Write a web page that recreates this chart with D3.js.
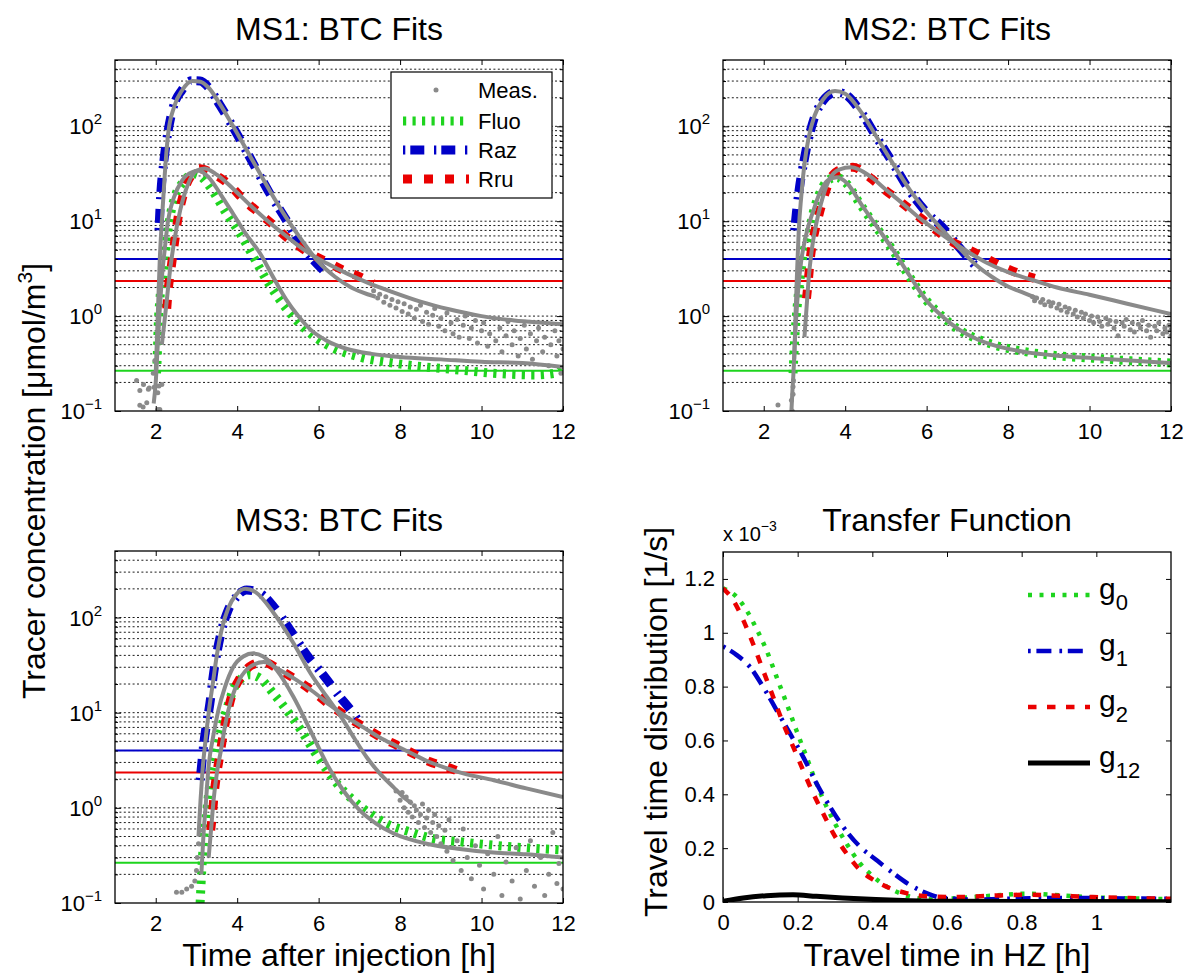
<!DOCTYPE html>
<html>
<head>
<meta charset="utf-8">
<script src="https://cdn.jsdelivr.net/npm/d3@7"></script>
<style>
  body { margin: 0; background: #fff; }
  text { font-family: "Liberation Sans", Arial, Helvetica, sans-serif; fill: #000; }
</style>
</head>
<body>
<svg id="fig" width="1202" height="974"></svg>
<script>
// ---------- data (time [h], concentration [umol/m3]) ----------
const tracers = ["Fluo", "Raz", "Rru"];
const limitValues = [0.265, 4.0, 2.35];        // detection limits, same order as tracers
const xTicksBTC = [2, 4, 6, 8, 10, 12];
const logDecades = [0.1, 1, 10, 100];

// MS1
const ms1FluoFit = [[2.02,0.25],[2.04,0.4],[2.06,0.77],[2.1,1.47],[2.19,2.8],[2.27,6.3],[2.35,11],[2.47,18],[2.68,26],[2.92,31.6],[3.09,30],[3.33,23],[3.74,12],[4.07,7.4],[4.4,4.2],[4.72,2.4],[5.05,1.47],[5.38,0.98],[5.79,0.66],[6.2,0.5],[7.01,0.37],[7.83,0.32],[8.65,0.29],[9.47,0.27],[10.29,0.25],[11.3,0.24],[11.8,0.25],[12,0.29]];
const ms1RazFit = [[2.08,8],[2.12,18],[2.2,43],[2.3,87],[2.43,159],[2.64,240],[2.88,302],[3.09,300],[3.29,259],[3.58,166],[3.9,98],[4.4,40],[4.8,19.6],[5.21,10.2],[5.54,5.8],[5.87,3.9],[6.11,3.05]];
const ms1RruFit = [[2.27,1.2],[2.31,1.95],[2.37,3.05],[2.43,4.75],[2.48,6.8],[2.55,11],[2.64,16.6],[2.8,27],[3.09,35.8],[3.41,31.6],[3.82,24],[4.15,17],[4.56,12],[4.89,9.1],[5.21,6.8],[5.54,5.37],[5.87,4.38],[6.2,3.73],[6.6,3.05],[7.01,2.6],[7.34,2.2]];
const ms1FluoMeas = [[1.95,0.12],[2.0,0.2],[2.05,0.5],[2.1,1.2],[2.15,2.5],[2.22,5],[2.3,10],[2.45,18],[2.65,27],[2.9,33],[3.05,34],[3.3,29],[3.6,19],[3.9,12],[4.2,7.5],[4.56,4.6],[4.9,2.5],[5.2,1.5],[5.5,1.0],[5.8,0.72],[6.2,0.55],[6.7,0.45],[7.3,0.4],[8.0,0.37],[9.0,0.35],[10.0,0.33],[11.0,0.32],[12.0,0.29]];
const ms1RazMeas = [[2.0,0.25],[2.05,1.0],[2.1,4],[2.15,10],[2.22,30],[2.3,80],[2.45,160],[2.65,240],[2.9,300],[3.1,295],[3.3,255],[3.6,165],[3.9,100],[4.4,42],[4.8,21],[5.2,11],[5.6,6.2],[6.0,3.7],[6.4,2.6],[6.8,2.0],[7.2,1.7],[7.4,1.6]];
const ms1RruMeas = [[2.15,0.5],[2.25,1.2],[2.35,3],[2.45,6],[2.6,13],[2.8,25],[3.0,34],[3.2,36],[3.5,31],[3.9,22],[4.3,15],[4.7,10.5],[5.2,7],[5.7,4.8],[6.2,3.6],[6.7,2.8],[7.2,2.25],[7.8,1.8],[8.5,1.42],[9.2,1.18],[10.0,1.0],[10.8,0.9],[11.5,0.85],[12.0,0.82]];
const ms1Scatter = [[1.53,0.21],[1.61,0.164],[1.61,0.115],[1.69,0.11],[1.7,0.19],[1.78,0.122],[1.82,0.17],[1.84,0.175],[1.94,0.25],[1.96,0.178],[1.98,0.34],[2.05,0.156],[2.05,0.104],[2.08,0.183],[2.1,0.104],[2.15,0.19],
  [7.35,1.85],[7.45,1.55],[7.5,1.7],[7.6,1.4],[7.65,1.6],[7.75,1.3],[7.8,1.5],[7.9,1.22],[7.95,1.42],[8.05,1.12],[8.1,1.35],[8.2,1.05],[8.25,1.25],[8.35,0.95],[8.4,1.18],[8.5,1.3],[8.55,0.88],[8.65,1.1],[8.7,0.82],[8.8,1.02],[8.85,1.2],[8.95,0.78],[9.0,0.95],[9.1,0.7],[9.15,1.08],[9.25,0.85],[9.3,0.65],[9.4,0.92],[9.45,0.6],[9.55,0.8],[9.6,1.0],[9.7,0.58],[9.75,0.75],[9.85,0.9],[9.9,0.52],[10.0,0.7],[10.05,0.85],[10.15,0.48],[10.2,0.65],[10.3,0.95],[10.35,0.55],[10.45,0.75],[10.5,0.42],[10.6,0.62],[10.65,0.88],[10.75,0.5],[10.8,0.7],[10.9,0.38],[10.95,0.58],[11.05,0.8],[11.1,0.45],[11.2,0.65],[11.25,0.35],[11.35,0.55],[11.4,0.75],[11.5,0.42],[11.55,0.6],[11.65,0.3],[11.7,0.5],[11.8,0.7],[11.85,0.38],[11.9,0.55],[11.95,0.25],[12.0,0.45],[12.0,0.1]];

// MS2
const ms2FluoFit = [[2.72,0.25],[2.76,0.56],[2.82,1.25],[2.88,2.2],[2.96,4.2],[3.09,6.8],[3.21,12],[3.37,19.5],[3.58,27],[3.78,29],[4.03,25],[4.36,15.3],[4.76,8.7],[5.17,4.95],[5.58,2.6],[5.99,1.47],[6.4,0.98],[6.81,0.71],[7.22,0.58],[7.63,0.5],[8.45,0.42],[9.27,0.38],[10.08,0.36],[10.9,0.34],[12,0.32]];
const ms2RazFit = [[2.76,8],[2.8,12],[2.88,23],[2.96,37],[3.09,71],[3.25,126],[3.46,187],[3.78,230],[4.03,213],[4.36,147],[4.76,78],[5.17,41],[5.58,21],[5.99,12.5],[6.4,8.5],[6.8,5.3],[7.25,3.2]];
const ms2RruFit = [[3.05,1.53],[3.1,2.5],[3.14,3.9],[3.21,6.3],[3.31,9.8],[3.43,15.3],[3.62,27],[3.82,34],[4.19,37],[4.6,29],[5.0,21],[5.42,15.3],[5.83,11],[6.24,8],[6.65,6.0],[7.06,4.95],[7.46,4.05],[7.87,3.3],[8.28,2.8],[8.65,2.5]];
const ms2FluoMeas = [[2.68,0.1],[2.7,0.15],[2.73,0.25],[2.76,0.5],[2.8,1.0],[2.85,2],[2.92,3.8],[3.0,6],[3.1,9],[3.22,13],[3.38,20],[3.58,27],[3.8,29],[4.05,25],[4.4,15],[4.8,8.5],[5.2,4.8],[5.6,2.6],[6.0,1.45],[6.4,0.98],[6.8,0.72],[7.2,0.58],[7.6,0.5],[8.4,0.42],[9.3,0.38],[10.1,0.36],[11.0,0.34],[12.0,0.32]];
const ms2RazMeas = [[2.75,0.35],[2.78,1],[2.82,3],[2.86,8],[2.92,18],[3.0,40],[3.1,75],[3.25,130],[3.45,190],[3.75,235],[4.0,220],[4.35,150],[4.75,80],[5.15,42],[5.6,21],[6.0,12.5],[6.4,8],[6.8,5.2],[7.2,3.5],[7.6,2.6],[8.0,2.05],[8.4,1.75],[8.7,1.55]];
const ms2RruMeas = [[3.0,0.6],[3.05,1.2],[3.1,2.4],[3.18,5],[3.28,9],[3.4,15],[3.6,27],[3.85,35],[4.15,37],[4.6,30],[5.0,21.5],[5.4,15.5],[5.8,11],[6.2,8.2],[6.6,6.2],[7.0,4.8],[7.5,3.6],[8.0,2.9],[8.6,2.4],[9.2,2.0],[10.0,1.68],[10.9,1.36],[12.0,1.05]];
const ms2Scatter = [[2.35,0.116],[2.68,0.13],[2.7,0.1],[2.72,0.15],[2.72,0.18],[2.73,0.21],
  [8.6,1.6],[8.65,1.45],[8.7,1.55],[8.8,1.4],[8.85,1.5],[8.9,1.32],[9.0,1.42],[9.05,1.28],[9.1,1.38],[9.2,1.22],[9.25,1.33],[9.3,1.15],[9.4,1.25],[9.45,1.1],[9.5,1.2],[9.6,1.05],[9.65,1.15],[9.7,0.98],[9.8,1.1],[9.85,0.95],[9.9,1.05],[10.0,0.9],[10.05,1.0],[10.1,0.85],[10.2,0.98],[10.25,0.88],[10.3,0.78],[10.4,0.95],[10.45,0.82],[10.5,0.9],[10.6,0.75],[10.65,0.88],[10.7,0.62],[10.8,0.85],[10.85,0.78],[10.9,0.92],[11.0,0.72],[11.05,0.85],[11.1,0.68],[11.2,0.82],[11.25,0.75],[11.3,0.9],[11.4,0.7],[11.45,0.8],[11.5,0.6],[11.6,0.78],[11.65,0.7],[11.7,0.85],[11.8,0.65],[11.85,0.75],[11.9,0.68],[11.95,0.8],[12.0,0.72],[12.0,0.62]];

// MS3
const ms3FluoFit = [[3.09,0.1],[3.13,0.22],[3.17,0.42],[3.23,0.74],[3.29,1.3],[3.37,2.3],[3.48,3.7],[3.6,6.6],[3.74,10.7],[3.9,17.3],[4.11,23],[4.31,25],[4.56,23],[4.89,15.9],[5.21,10.7],[5.54,6.8],[5.87,4.05],[6.2,2.5],[6.52,1.66],[6.85,1.2],[7.26,0.87],[7.67,0.68],[8.24,0.56],[8.81,0.475],[9.47,0.44],[10.29,0.405],[11.1,0.38],[12,0.36]];
const ms3RazFit = [[3.09,1.95],[3.13,2.9],[3.18,4.75],[3.25,7.7],[3.33,12.5],[3.41,24],[3.5,42],[3.62,74],[3.78,120],[3.99,166],[4.23,195],[4.56,180],[4.89,131],[5.3,74],[5.7,41],[6.11,25],[6.52,14.7],[6.85,9.8],[7.01,7.7]];
const ms3RruFit = [[3.35,0.58],[3.4,0.94],[3.44,1.47],[3.5,2.3],[3.58,3.7],[3.66,6],[3.74,9.1],[3.86,14.7],[4.07,23],[4.36,31.6],[4.64,34],[5.05,28],[5.46,22],[5.87,16.6],[6.28,12],[6.69,9.1],[7.1,7.1],[7.5,5.6],[7.91,4.57],[8.32,3.73],[8.73,3.05],[9.14,2.7],[9.55,2.3]];
const ms3FluoMeas = [[3.12,0.2],[3.17,0.5],[3.23,1.1],[3.29,2.5],[3.41,5.6],[3.54,10.7],[3.7,18.6],[3.9,30],[4.15,39],[4.4,42],[4.64,39],[4.97,28],[5.38,14.7],[5.79,6.6],[6.2,2.9],[6.6,1.53],[7.01,0.94],[7.42,0.68],[7.83,0.54],[8.65,0.42],[9.47,0.37],[10.29,0.34],[11.1,0.325],[12.0,0.3]];
const ms3RazMeas = [[3.05,0.5],[3.1,1.2],[3.15,2.5],[3.22,5],[3.3,10],[3.4,20],[3.5,40],[3.62,75],[3.78,125],[3.98,175],[4.2,200],[4.45,185],[4.9,111],[5.38,54],[5.8,26],[6.2,14.7],[6.6,8.4],[6.85,5.6],[7.18,3.4],[7.5,2.3],[7.83,1.66],[8.08,1.3],[8.3,1.1]];
const ms3RruMeas = [[3.3,0.3],[3.36,0.6],[3.42,1.2],[3.5,2.3],[3.6,4],[3.72,8],[3.86,14],[4.05,22],[4.35,31],[4.65,34],[5.05,28],[5.46,22],[5.87,16.6],[6.28,12],[6.69,9],[7.1,7],[7.5,5.5],[7.9,4.5],[8.3,3.7],[8.7,3.05],[9.1,2.65],[9.55,2.3],[10.3,1.95],[11.1,1.6],[12.0,1.3]];
const ms3Scatter = [[2.51,0.13],[2.64,0.13],[2.76,0.14],[2.88,0.15],[2.96,0.17],[3.0,0.22],[3.02,0.3],[3.05,0.42],[3.09,0.58],
  [7.9,1.5],[8.0,1.2],[8.05,1.45],[8.1,1.0],[8.15,1.3],[8.2,0.9],[8.25,1.15],[8.3,0.8],[8.35,1.05],[8.4,0.95],[8.45,0.7],[8.5,0.85],[8.55,1.1],[8.6,0.62],[8.65,0.78],[8.7,0.95],[8.75,0.55],[8.8,0.7],[8.85,0.85],[8.9,0.5],[8.95,0.65],[9.0,0.42],[9.1,0.58],[9.15,0.35],[9.2,0.75],[9.3,0.28],[9.4,0.45],[9.5,0.22],[9.55,0.6],[9.65,0.3],[9.75,0.18],[9.85,0.4],[9.95,0.25],[10.05,0.14],[10.15,0.33],[10.3,0.2],[10.4,0.5],[10.5,0.12],[10.6,0.27],[10.75,0.17],[10.85,0.38],[10.95,0.11],[11.1,0.22],[11.2,0.45],[11.3,0.15],[11.45,0.3],[11.55,0.12],[11.65,0.2],[11.75,0.55],[11.85,0.16],[11.9,0.26],[12.0,0.14],[12.0,0.35]];

// Transfer function (travel time [h], value in 1e-3 1/s)
const tfNames = ["0", "1", "2", "12"];
const g0 = [[0,1.165],[0.036,1.134],[0.0625,1.085],[0.089,1.017],[0.116,0.937],[0.143,0.838],[0.17,0.739],[0.196,0.64],[0.223,0.541],[0.25,0.442],[0.277,0.355],[0.304,0.281],[0.33,0.219],[0.366,0.145],[0.402,0.095],[0.4375,0.058],[0.473,0.033],[0.518,0.015],[0.571,0.009],[0.634,0.015],[0.723,0.0235],[0.8125,0.031],[0.9,0.025],[0.99,0.017],[1.08,0.0136],[1.2,0.011]];
const g1 = [[0,0.949],[0.036,0.918],[0.071,0.875],[0.107,0.8],[0.143,0.714],[0.179,0.627],[0.214,0.541],[0.25,0.442],[0.286,0.355],[0.321,0.281],[0.366,0.207],[0.41,0.157],[0.455,0.108],[0.5,0.064],[0.545,0.033],[0.589,0.015],[0.679,0.009],[0.768,0.012],[0.857,0.015],[0.946,0.015],[1.036,0.0136],[1.2,0.012]];
const g2 = [[0,1.165],[0.027,1.122],[0.054,1.048],[0.08,0.961],[0.107,0.862],[0.134,0.763],[0.161,0.664],[0.1875,0.578],[0.214,0.491],[0.241,0.405],[0.268,0.33],[0.295,0.256],[0.33,0.182],[0.366,0.12],[0.402,0.083],[0.446,0.052],[0.491,0.033],[0.545,0.021],[0.634,0.0186],[0.723,0.0235],[0.8125,0.027],[0.9,0.0235],[0.99,0.0186],[1.08,0.015],[1.2,0.012]];
const g12 = [[0,0.0025],[0.054,0.015],[0.116,0.0235],[0.1875,0.027],[0.25,0.021],[0.321,0.015],[0.41,0.009],[0.5,0.005],[0.634,0.0025],[1.2,0.001]];
const tfXTicks = [0, 0.2, 0.4, 0.6, 0.8, 1];
const tfYTicks = [0, 0.2, 0.4, 0.6, 0.8, 1, 1.2];

// ---------- styles ----------
const colors = { Fluo: "#1ed41e", Raz: "#0000c8", Rru: "#ea0000", meas: "#8a8a8a", g12: "#000" };
const thickDash = { Fluo: "3.2,6.3", Raz: "2.3,5,14,9.7", Rru: "9,12" };
const FONT = '"Liberation Sans", Arial, Helvetica, sans-serif';
const TICK_FS = 22;

const svg = d3.select("#fig");
svg.append("rect").attr("width", 1202).attr("height", 974).attr("fill", "#fff");

function styleAxis(a) {
  a.attr("font-family", FONT).attr("font-size", TICK_FS);
  a.select(".domain").remove();
  a.selectAll(".tick line").attr("stroke", "#000");
}

function btcPanel(id, box, title, fits, meas, scatter, legend) {
  const x = d3.scaleLinear([1, 12], [box.x0, box.x1]);
  const y = d3.scaleLog([0.1, 500], [box.y1, box.y0]);
  const g = svg.append("g");

  g.append("clipPath").attr("id", "clip" + id)
    .append("rect").attr("x", box.x0).attr("y", box.y0)
    .attr("width", box.x1 - box.x0).attr("height", box.y1 - box.y0);

  // dotted minor grid
  g.append("g").selectAll("line")
    .data(y.ticks().filter(v => v > 0.1 && v < 500))
    .join("line")
    .attr("x1", box.x0).attr("x2", box.x1)
    .attr("y1", d => y(d)).attr("y2", d => y(d))
    .attr("stroke", "#000").attr("stroke-width", 0.9)
    .attr("stroke-dasharray", "2,2.4");

  const plot = g.append("g").attr("clip-path", `url(#clip${id})`);

  // detection limits
  plot.selectAll(".lim").data(tracers).join("line")
    .attr("x1", box.x0).attr("x2", box.x1)
    .attr("y1", (d, i) => y(limitValues[i])).attr("y2", (d, i) => y(limitValues[i]))
    .attr("stroke", d => colors[d]).attr("stroke-width", 2);

  const line = d3.line().x(d => x(d[0])).y(d => y(d[1])).curve(d3.curveMonotoneX);

  // fits
  tracers.forEach((t, i) => {
    plot.append("path").attr("d", line(fits[i]))
      .attr("fill", "none").attr("stroke", colors[t]).attr("stroke-width", 9)
      .attr("stroke-dasharray", thickDash[t]);
  });

  // measurements
  meas.forEach(m => {
    plot.append("path").attr("d", line(m))
      .attr("fill", "none").attr("stroke", colors.meas).attr("stroke-width", 4);
  });
  plot.append("g").selectAll("circle").data(scatter).join("circle")
    .attr("cx", d => x(d[0])).attr("cy", d => y(d[1])).attr("r", 2.5)
    .attr("fill", colors.meas);

  // box + ticks
  g.append("rect").attr("x", box.x0).attr("y", box.y0)
    .attr("width", box.x1 - box.x0).attr("height", box.y1 - box.y0)
    .attr("fill", "none").attr("stroke", "#000").attr("stroke-width", 1.3);

  g.append("g").attr("transform", `translate(0,${box.y1})`)
    .call(d3.axisBottom(x).tickValues(xTicksBTC).tickSizeInner(-5).tickSizeOuter(0).tickPadding(12))
    .call(styleAxis);
  g.append("g").attr("transform", `translate(0,${box.y0})`)
    .call(d3.axisTop(x).tickValues(xTicksBTC).tickSizeInner(-5).tickSizeOuter(0).tickFormat(""))
    .call(styleAxis);
  const minor = y.ticks().filter(v => !logDecades.includes(v));
  [[d3.axisLeft, box.x0], [d3.axisRight, box.x1]].forEach(([axis, px]) => {
    g.append("g").attr("transform", `translate(${px},0)`)
      .call(axis(y).tickValues(logDecades).tickSizeInner(-6).tickSizeOuter(0).tickFormat(""))
      .call(styleAxis);
    g.append("g").attr("transform", `translate(${px},0)`)
      .call(axis(y).tickValues(minor).tickSizeInner(-3).tickSizeOuter(0).tickFormat(""))
      .call(styleAxis);
  });

  // 10^n labels
  g.append("g").selectAll("text").data(logDecades).join("text")
    .attr("x", box.x0 - 13).attr("y", d => y(d) + 8)
    .attr("text-anchor", "end").attr("font-size", TICK_FS)
    .each(function (d) {
      const e = Math.round(Math.log10(d));
      const t = d3.select(this);
      t.append("tspan").text("10");
      t.append("tspan").attr("dy", -10).attr("font-size", 15).text(e < 0 ? "\u2212" + (-e) : e);
    });

  // title
  svg.append("text").attr("x", (box.x0 + box.x1) / 2).attr("y", box.y0 - 20)
    .attr("text-anchor", "middle").attr("font-size", 32).text(title);

  if (legend) {
    const lg = g.append("g");
    lg.append("rect").attr("x", 391).attr("y", 72).attr("width", 161).attr("height", 126)
      .attr("fill", "#fff").attr("stroke", "#000").attr("stroke-width", 1.2);
    const rows = [90, 121, 150, 179];
    lg.append("circle").attr("cx", 436).attr("cy", rows[0]).attr("r", 2.5).attr("fill", colors.meas);
    tracers.forEach((t, i) => {
      lg.append("line").attr("x1", 403).attr("x2", 469).attr("y1", rows[i + 1]).attr("y2", rows[i + 1])
        .attr("stroke", colors[t]).attr("stroke-width", 9).attr("stroke-dasharray", thickDash[t]);
    });
    lg.selectAll("text").data(["Meas.", ...tracers]).join("text")
      .attr("x", 478).attr("y", (d, i) => rows[i] + 8).attr("font-size", 22).text(d => d);
  }
}

btcPanel(1, { x0: 115, x1: 563, y0: 60, y1: 411 }, "MS1: BTC Fits",
  [ms1FluoFit, ms1RazFit, ms1RruFit], [ms1FluoMeas, ms1RazMeas, ms1RruMeas], ms1Scatter, true);
btcPanel(2, { x0: 723, x1: 1171, y0: 60, y1: 411 }, "MS2: BTC Fits",
  [ms2FluoFit, ms2RazFit, ms2RruFit], [ms2FluoMeas, ms2RazMeas, ms2RruMeas], ms2Scatter, false);
btcPanel(3, { x0: 115, x1: 563, y0: 551, y1: 903 }, "MS3: BTC Fits",
  [ms3FluoFit, ms3RazFit, ms3RruFit], [ms3FluoMeas, ms3RazMeas, ms3RruMeas], ms3Scatter, false);

// ---------- transfer function panel ----------
(function () {
  const box = { x0: 723, x1: 1171, y0: 552, y1: 902 };
  const x = d3.scaleLinear([0, 1.2], [box.x0, box.x1]);
  const y = d3.scaleLinear([0, 1.3], [box.y1, box.y0]);
  const g = svg.append("g");
  g.append("clipPath").attr("id", "clip4").append("rect")
    .attr("x", box.x0).attr("y", box.y0).attr("width", box.x1 - box.x0).attr("height", box.y1 - box.y0);

  const series = [g0, g1, g2, g12];
  const tfColors = [colors.Fluo, colors.Raz, colors.Rru, colors.g12];
  const tfDash = ["4,7.5", "2.7,5.7,15,8", "8.5,10.5", null];
  const tfWidth = [4.5, 4.5, 4.5, 5];
  const line = d3.line().x(d => x(d[0])).y(d => y(d[1])).curve(d3.curveMonotoneX);
  const plot = g.append("g").attr("clip-path", "url(#clip4)");
  series.forEach((s, i) => {
    plot.append("path").attr("d", line(s)).attr("fill", "none")
      .attr("stroke", tfColors[i]).attr("stroke-width", tfWidth[i])
      .attr("stroke-dasharray", tfDash[i]);
  });

  g.append("rect").attr("x", box.x0).attr("y", box.y0)
    .attr("width", box.x1 - box.x0).attr("height", box.y1 - box.y0)
    .attr("fill", "none").attr("stroke", "#000").attr("stroke-width", 1.3);

  const fmt = d3.format("~g");
  g.append("g").attr("transform", `translate(0,${box.y1})`)
    .call(d3.axisBottom(x).tickValues(tfXTicks).tickSizeInner(-5).tickSizeOuter(0).tickPadding(12).tickFormat(fmt))
    .call(styleAxis);
  g.append("g").attr("transform", `translate(0,${box.y0})`)
    .call(d3.axisTop(x).tickValues(tfXTicks).tickSizeInner(-5).tickSizeOuter(0).tickFormat(""))
    .call(styleAxis);
  g.append("g").attr("transform", `translate(${box.x0},0)`)
    .call(d3.axisLeft(y).tickValues(tfYTicks).tickSizeInner(-5).tickSizeOuter(0).tickPadding(8).tickFormat(fmt))
    .call(styleAxis);
  g.append("g").attr("transform", `translate(${box.x1},0)`)
    .call(d3.axisRight(y).tickValues(tfYTicks).tickSizeInner(-5).tickSizeOuter(0).tickFormat(""))
    .call(styleAxis);

  // exponent label
  const ex = svg.append("text").attr("x", box.x0).attr("y", 541).attr("font-size", 20);
  ex.append("tspan").text("x 10");
  ex.append("tspan").attr("dy", -10).attr("font-size", 14).text("\u22123");

  svg.append("text").attr("x", (box.x0 + box.x1) / 2).attr("y", 531)
    .attr("text-anchor", "middle").attr("font-size", 32).text("Transfer Function");

  // legend (no box)
  const rows = [595, 651, 707, 763];
  tfNames.forEach((n, i) => {
    g.append("line").attr("x1", 1028).attr("x2", 1090).attr("y1", rows[i]).attr("y2", rows[i])
      .attr("stroke", tfColors[i]).attr("stroke-width", tfWidth[i]).attr("stroke-dasharray", tfDash[i]);
    const t = g.append("text").attr("x", 1099).attr("y", rows[i] + 4).attr("font-size", 30);
    t.append("tspan").text("g");
    t.append("tspan").attr("dy", 11).attr("font-size", 22).text(n);
  });

  svg.append("text").attr("x", (box.x0 + box.x1) / 2).attr("y", 966)
    .attr("text-anchor", "middle").attr("font-size", 32).text("Travel time in HZ [h]");
  svg.append("text").attr("transform", `translate(667,722) rotate(-90)`)
    .attr("text-anchor", "middle").attr("font-size", 32).text("Travel time distribution [1/s]");
})();

// shared axis labels
svg.append("text").attr("x", 339).attr("y", 966).attr("text-anchor", "middle")
  .attr("font-size", 32).text("Time after injection [h]");
const yl = svg.append("text").attr("transform", "translate(45,481) rotate(-90)")
  .attr("text-anchor", "middle").attr("font-size", 32);
yl.append("tspan").text("Tracer concentration [\u03bcmol/m");
yl.append("tspan").attr("dy", -13).attr("font-size", 21).text("3");
yl.append("tspan").attr("dy", 13).text("]");
</script>
</body>
</html>
